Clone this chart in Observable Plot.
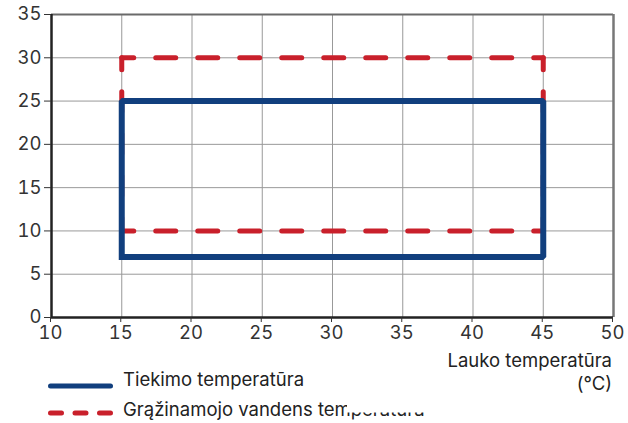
<!DOCTYPE html>
<html>
<head>
<meta charset="utf-8">
<script src="https://cdn.jsdelivr.net/npm/d3@7"></script>
<script src="https://cdn.jsdelivr.net/npm/@observablehq/plot@0.6"></script>
<style>
  body { margin: 0; background: #fff; }
  #wrap { position: relative; width: 628px; height: 423px; overflow: hidden; font-family: Inter, sans-serif; }
  #overlay { position: absolute; left: 0; top: 345px; }
</style>
</head>
<body>
<div id="wrap"></div>
<script>
// ---- data ----
const xTicks = [10, 15, 20, 25, 30, 35, 40, 45, 50];
const yTicks = [0, 5, 10, 15, 20, 25, 30, 35];
const xGrid = [15, 20, 25, 30, 35, 40, 45];
const yGrid = [5, 10, 15, 20, 25, 30];

// Supply temperature (Tiekimo) envelope: closed path
const supplyX = [15, 15, 45, 45, 15];
const supplyY = [7, 25, 25, 7, 7];

// Return water (Grąžinamojo) envelope: four sides
const returnX1 = [15, 15, 15, 45];
const returnY1 = [30, 10, 30, 30];
const returnX2 = [45, 45, 15, 45];
const returnY2 = [30, 10, 10, 10];

const seriesNames = ["Tiekimo temperatūra", "Grąžinamojo vandens temperatūra"];
const axisLabelLines = ["Lauko temperatūra", "(°C)"];

const BLUE = "#113f7e";
const RED = "#c9202b";
const FONT = "Inter, sans-serif";

const supply = supplyX.map((x, i) => ({x, y: supplyY[i]}));
const ret = returnX1.map((x1, i) => ({x1, y1: returnY1[i], x2: returnX2[i], y2: returnY2[i]}));

const chart = Plot.plot({
  width: 628,
  height: 345,
  marginLeft: 51,
  marginRight: 15,
  marginTop: 14,
  marginBottom: 28,
  style: {fontFamily: FONT, fontSize: "18.5px", color: "#333", background: "#fff"},
  x: {domain: [10, 50]},
  y: {domain: [0, 35]},
  marks: [
    Plot.gridX(xGrid, {stroke: "#999", strokeOpacity: 1, strokeWidth: 1}),
    Plot.gridY(yGrid, {stroke: "#999", strokeOpacity: 1, strokeWidth: 1}),
    Plot.ruleY([35], {stroke: "#6a6a6a", strokeWidth: 2}),
    Plot.ruleX([50], {stroke: "#777", strokeWidth: 2.5}),
    Plot.link(ret, {x1: "x1", y1: "y1", x2: "x2", y2: "y2", stroke: RED, strokeWidth: 5,
      strokeDasharray: "20,22", strokeDashoffset: 8, strokeLinecap: "round"}),
    Plot.line(supply, {x: "x", y: "y", stroke: BLUE, strokeWidth: 6, strokeLinejoin: "miter", strokeLinecap: "square"}),
    Plot.ruleX([10], {stroke: "#222", strokeWidth: 2.5}),
    Plot.ruleY([0], {stroke: "#222", strokeWidth: 2.5}),
    Plot.axisY(yTicks, {tickSize: 7, tickPadding: 3, stroke: "#333", fill: "#333", label: null}),
    Plot.axisX(xTicks, {tickSize: 5, tickPadding: 3, stroke: "#333", fill: "#333", label: null, dx: -1})
  ]
});
document.getElementById("wrap").appendChild(chart);

// ---- legend + axis label overlay ----
const ns = "http://www.w3.org/2000/svg";
const ov = document.createElementNS(ns, "svg");
ov.setAttribute("id", "overlay");
ov.setAttribute("width", 628);
ov.setAttribute("height", 78);
function el(tag, attrs, text) {
  const e = document.createElementNS(ns, tag);
  for (const k in attrs) e.setAttribute(k, attrs[k]);
  if (text != null) e.textContent = text;
  ov.appendChild(e);
  return e;
}
const tStyle = {"font-family": FONT, "font-size": "18.5px", fill: "#222"};
el("line", {x1: 50.5, x2: 110.5, y1: 41, y2: 41, stroke: BLUE, "stroke-width": 5, "stroke-linecap": "round"});
el("text", {...tStyle, x: 123, y: 40.5}, seriesNames[0]);
el("line", {x1: 50.5, x2: 110.5, y1: 68, y2: 68, stroke: RED, "stroke-width": 5, "stroke-linecap": "round", "stroke-dasharray": "11,13.5"});
el("text", {...tStyle, x: 123, y: 71}, seriesNames[1]);
// axis title box (opaque, overlapping the second legend entry as in the source)
el("rect", {x: 347, y: 3, width: 281, height: 64.5, fill: "#fff"});
el("text", {...tStyle, x: 612, y: 22, "text-anchor": "end"}, axisLabelLines[0]);
el("text", {...tStyle, x: 612, y: 45, "text-anchor": "end"}, axisLabelLines[1]);
document.getElementById("wrap").appendChild(ov);
</script>
</body>
</html>
